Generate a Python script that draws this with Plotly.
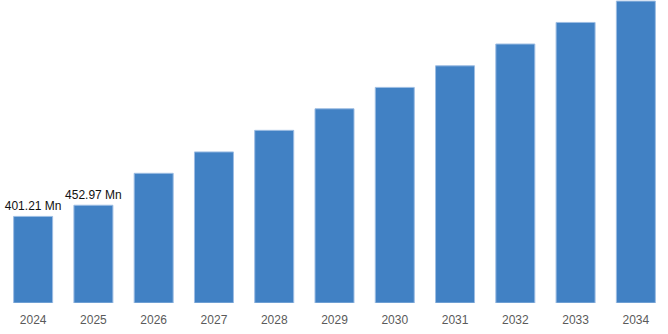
import plotly.graph_objects as go

# Market size by year (Mn)
years = ["2024", "2025", "2026", "2027", "2028", "2029", "2030", "2031", "2032", "2033", "2034"]
values = [401.21, 452.97, 601, 700, 800, 900, 999, 1099, 1200, 1300, 1399]
labels = ["401.21 Mn", "452.97 Mn", "", "", "", "", "", "", "", "", ""]

fig = go.Figure(
    go.Bar(
        x=years,
        y=values,
        text=labels,
        textposition="outside",
        constraintext="none",
        textfont=dict(family="Liberation Sans, Arial, sans-serif", size=12, color="#111111"),
        cliponaxis=False,
        marker=dict(color="#4181c4", line=dict(color="#9dbde3", width=1)),
        hoverinfo="x+y",
    )
)

fig.update_layout(
    width=668,
    height=334,
    margin=dict(l=3, r=2, t=0, b=31),
    paper_bgcolor="white",
    plot_bgcolor="white",
    bargap=0.353,
    showlegend=False,
    xaxis=dict(
        type="category",
        showgrid=False,
        showline=False,
        zeroline=False,
        ticks="",
        ticklabelstandoff=8,
        tickfont=dict(family="Liberation Sans, Arial, sans-serif", size=12, color="#5a5a5a"),
    ),
    yaxis=dict(
        range=[0, 1404],
        visible=False,
        showgrid=False,
        zeroline=False,
    ),
)

fig.write_html("out.html")
